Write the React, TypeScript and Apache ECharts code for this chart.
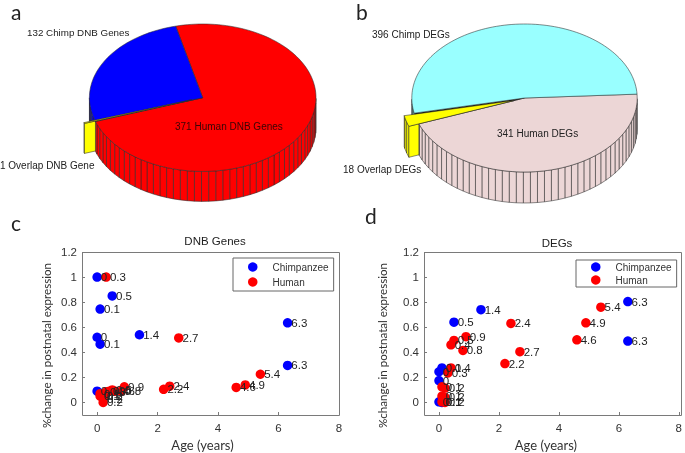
import React, { useEffect, useRef } from "react";
import * as echarts from "echarts";

// Pie values, in clockwise drawing order
const dnbPieNames = ["371 Human DNB Genes", "1 Overlap DNB Gene", "132 Chimp DNB Genes"];
const dnbPieValues = [371, 1, 132];
const degPieNames = ["341 Human DEGs", "18 Overlap DEGs", "396 Chimp DEGs"];
const degPieValues = [341, 18, 396];

// Scatter values: [age in years, % change]
const dnbChimp = [[0, 1], [0.5, 0.85], [0.1, 0.745], [6.3, 0.635], [0, 0.52], [1.4, 0.54], [0.1, 0.465], [6.3, 0.295], [0, 0.09]];
const dnbHuman = [[0.3, 1], [2.7, 0.515], [5.4, 0.225], [4.9, 0.14], [4.6, 0.12], [2.4, 0.13], [2.2, 0.105], [0.9, 0.125], [0.8, 0.09], [0.6, 0.09], [0.5, 0.1], [0.4, 0.09], [0.3, 0.085], [0.1, 0.07], [0.1, 0.05], [0.2, 0.05], [0.2, 0.03], [0.2, 0]];
const degChimp = [[6.3, 0.805], [6.3, 0.49], [1.4, 0.74], [0.5, 0.64], [0.1, 0.275], [0, 0.245], [0, 0.175], [0, 0.005], [0.1, 0]];
const degHuman = [[5.4, 0.76], [4.9, 0.635], [4.6, 0.5], [2.4, 0.63], [2.7, 0.405], [2.2, 0.31], [0.9, 0.525], [0.8, 0.415], [0.5, 0.495], [0.4, 0.46], [0.4, 0.275], [0.3, 0.235], [0.1, 0.125], [0.2, 0.115], [0.1, 0.05], [0.2, 0.04], [0.1, 0.005], [0.2, 0]];

const xTicks = [0, 2, 4, 6, 8];
const yTicks = [0, 0.2, 0.4, 0.6, 0.8, 1, 1.2];

const LINE = "#2a2a2a";
const SANS = "'Liberation Sans', Arial, sans-serif";
const HAND = "Lato, 'Open Sans', sans-serif";

type PieCfg = {
  cx: number; cy: number; rx: number; ry: number; depth: number; start: number;
  colors: string[]; explodeIndex: number; dx: number; dy: number;
};

function pieSeries(name: string, values: number[], names: string[], cfg: PieCfg) {
  const total = values.reduce((a, b) => a + b, 0);
  const pt = (t: number, ox = 0, oy = 0) => {
    const r = (t * Math.PI) / 180;
    return [cfg.cx + ox + cfg.rx * Math.sin(r), cfg.cy + oy - cfg.ry * Math.cos(r)];
  };
  const down = (p: number[]) => [p[0], p[1] + cfg.depth];
  const stroke = { stroke: LINE, lineWidth: 0.55 };
  return {
    type: "custom",
    name,
    coordinateSystem: "none",
    silent: true,
    data: values.map((value, i) => ({ name: names[i], value })),
    renderItem: (params: any, api: any) => {
      const i = params.dataIndex;
      const before = values.slice(0, i).reduce((a, b) => a + b, 0);
      const t0 = cfg.start + (before / total) * 360;
      const t1 = t0 + (values[i] / total) * 360;
      const exploded = i === cfg.explodeIndex;
      const ox = exploded ? cfg.dx : 0;
      const oy = exploded ? cfg.dy : 0;
      const fill = cfg.colors[i];
      const children: any[] = [];
      const center = [cfg.cx + ox, cfg.cy + oy];
      // outer wall, one quad per 3.6 degrees on the front half
      const step = 3.6;
      for (let a = t0; a < t1; a += step) {
        const b = Math.min(a + step, t1);
        const mid = (((a + b) / 2) * Math.PI) / 180;
        if (Math.cos(mid) >= 0) continue;
        const p = pt(a, ox, oy);
        const q = pt(b, ox, oy);
        children.push({
          type: "polygon", z2: exploded ? 2.5 : 2,
          shape: { points: [p, q, down(q), down(p)] },
          style: { fill, ...stroke },
        });
      }
      if (exploded) {
        // the dark gap the exploded slice leaves behind it
        const gap: number[][] = [[cfg.cx, cfg.cy]];
        for (let a = t0; a <= t1 + 0.001; a += (t1 - t0) / 8) gap.push(pt(a));
        children.push({ type: "polygon", z2: 3, shape: { points: gap }, style: { fill: "#111", ...stroke } });
        // radial wall, only the part that sticks out beyond the main pie's rim
        const rim = pt(t0, ox, oy);
        const mainRim = pt(t0);
        const f = (mainRim[0] - rim[0]) / (center[0] - rim[0]);
        const cut = [rim[0] + (center[0] - rim[0]) * f, rim[1] + (center[1] - rim[1]) * f];
        children.push({
          type: "polygon", z2: 2.5,
          shape: { points: [rim, cut, down(cut), down(rim)] },
          style: { fill, ...stroke },
        });
      }
      // top face
      const top: number[][] = [center];
      const n = Math.max(2, Math.ceil((t1 - t0) / 2));
      for (let k = 0; k <= n; k++) top.push(pt(t0 + ((t1 - t0) * k) / n, ox, oy));
      children.push({
        type: "polygon", z2: exploded ? 4 : 3,
        shape: { points: top },
        style: { fill, ...stroke },
      });
      return { type: "group", children };
    },
  };
}

const axisColor = "#7a7a7a";
const labelText = "#333";

function xAxis(gridIndex: number, shift: number) {
  return {
    type: "value", gridIndex, min: -0.5, max: 8,
    name: "Age (years)", nameLocation: "middle", nameGap: 23,
    nameTextStyle: { fontFamily: HAND, fontSize: 13, color: "#333", padding: [0, shift, 0, 0] },
    axisLine: { show: false, onZero: false }, splitLine: { show: false },
    axisTick: { show: true, inside: true, length: 3, lineStyle: { color: axisColor }, customValues: xTicks },
    axisLabel: { fontFamily: SANS, fontSize: 11.5, color: labelText, margin: 7, customValues: xTicks, formatter: (v: number) => String(v) },
  };
}
function yAxis(gridIndex: number, gap: number) {
  return {
    type: "value", gridIndex, min: -0.1, max: 1.2,
    name: "%change in postnatal expression", nameLocation: "middle", nameGap: gap,
    nameTextStyle: { fontFamily: HAND, fontSize: 11.6, color: "#333", padding: [0, 24, 0, 0] },
    axisLine: { show: false, onZero: false }, splitLine: { show: false },
    axisTick: { show: true, inside: true, length: 3, lineStyle: { color: axisColor }, customValues: yTicks },
    axisLabel: { fontFamily: SANS, fontSize: 11.5, color: labelText, margin: 5, customValues: yTicks, formatter: (v: number) => String(v) },
  };
}
function scatter(name: string, color: string, data: number[][], axisIndex: number) {
  return {
    type: "scatter", name, data, xAxisIndex: axisIndex, yAxisIndex: axisIndex,
    symbol: "circle", symbolSize: 9.5, itemStyle: { color, opacity: 1 },
    label: {
      show: true, position: "right", distance: -1, offset: [0, 1],
      fontFamily: SANS, fontSize: 11.5, color: "#222",
      formatter: (p: any) => String(p.value[0]),
    },
    labelLayout: { hideOverlap: false },
  };
}
function legend(left: number, top: number, gap: number, padV: number) {
  return {
    data: ["Chimpanzee", "Human"], orient: "vertical", left, top,
    icon: "circle", itemWidth: 9.5, itemHeight: 9.5, itemGap: gap,
    padding: [padV, 5, padV, 15],
    borderColor: "#666", borderWidth: 1, backgroundColor: "#fff",
    selectedMode: false,
    textStyle: { fontFamily: SANS, fontSize: 10, color: "#333", padding: [0, 0, 0, 10] },
  };
}
function text(x: number, y: number, t: string, fontSize: number, fontFamily: string, fill = "#222") {
  return { type: "text", x, y, silent: true, z: 20, style: { text: t, fontSize, fontFamily, fill } };
}
function frame(x: number, y: number, width: number, height: number) {
  return { type: "rect", silent: true, z: 1, shape: { x, y, width, height }, style: { fill: "none", stroke: axisColor, lineWidth: 1 } };
}

export default function App() {
  const ref = useRef<HTMLDivElement>(null);
  useEffect(() => {
    document.body.style.margin = "0";
    const chart = echarts.init(ref.current!, undefined, { renderer: "svg" });
    chart.setOption({
      animation: false,
      backgroundColor: "#fff",
      title: [
        { text: "DNB Genes", left: 210, top: 230, textAlign: "center", textStyle: { fontFamily: SANS, fontSize: 11.5, fontWeight: "normal", color: "#222" } },
        { text: "DEGs", left: 552, top: 232, textAlign: "center", textStyle: { fontFamily: SANS, fontSize: 11.5, fontWeight: "normal", color: "#222" } },
      ],
      grid: [
        { left: 82, top: 252, width: 257, height: 163 },
        { left: 424, top: 252, width: 257, height: 163 },
      ],
      xAxis: [xAxis(0, 16), xAxis(1, 11)],
      yAxis: [yAxis(0, 30), yAxis(1, 36)],
      legend: [legend(233, 258, 5, 4), legend(576, 260, 3, 2)],
      series: [
        pieSeries("DNB pie", dnbPieValues, dnbPieNames, {
          cx: 202.7, cy: 97.7, rx: 113.3, ry: 73.7, depth: 30, start: 346.2,
          colors: ["#ff0000", "#ffff00", "#0000ff"], explodeIndex: 1, dx: -11, dy: 2,
        }),
        pieSeries("DEG pie", degPieValues, degPieNames, {
          cx: 524.5, cy: 98, rx: 112.7, ry: 74, depth: 31, start: 87,
          colors: ["#ecd6d6", "#ffff00", "#99ffff"], explodeIndex: 1, dx: -10, dy: 2.5,
        }),
        scatter("Chimpanzee", "#0000ff", dnbChimp, 0),
        scatter("Human", "#ff0000", dnbHuman, 0),
        scatter("Chimpanzee", "#0000ff", degChimp, 1),
        scatter("Human", "#ff0000", degHuman, 1),
      ],
      graphic: [
        frame(82.5, 252.5, 257, 163),
        frame(424.5, 252.5, 257, 163),
        text(11, 1, "a", 21, HAND),
        text(356, 1, "b", 21, HAND),
        text(11, 212, "c", 21, HAND),
        text(365, 205, "d", 21, HAND),
        text(27, 27, dnbPieNames[2], 9.8, SANS),
        text(175, 121, dnbPieNames[0], 10, SANS, "#3a0505"),
        text(0, 160, dnbPieNames[1], 10, SANS),
        text(372, 29, degPieNames[2], 10, SANS),
        text(497, 128, degPieNames[0], 10, SANS),
        text(343, 164, degPieNames[1], 10, SANS),
      ],
    });
    return () => chart.dispose();
  }, []);
  return <div ref={ref} style={{ position: "fixed", left: 0, top: 0, width: 685, height: 453, filter: "blur(0.35px)" }} />;
}
